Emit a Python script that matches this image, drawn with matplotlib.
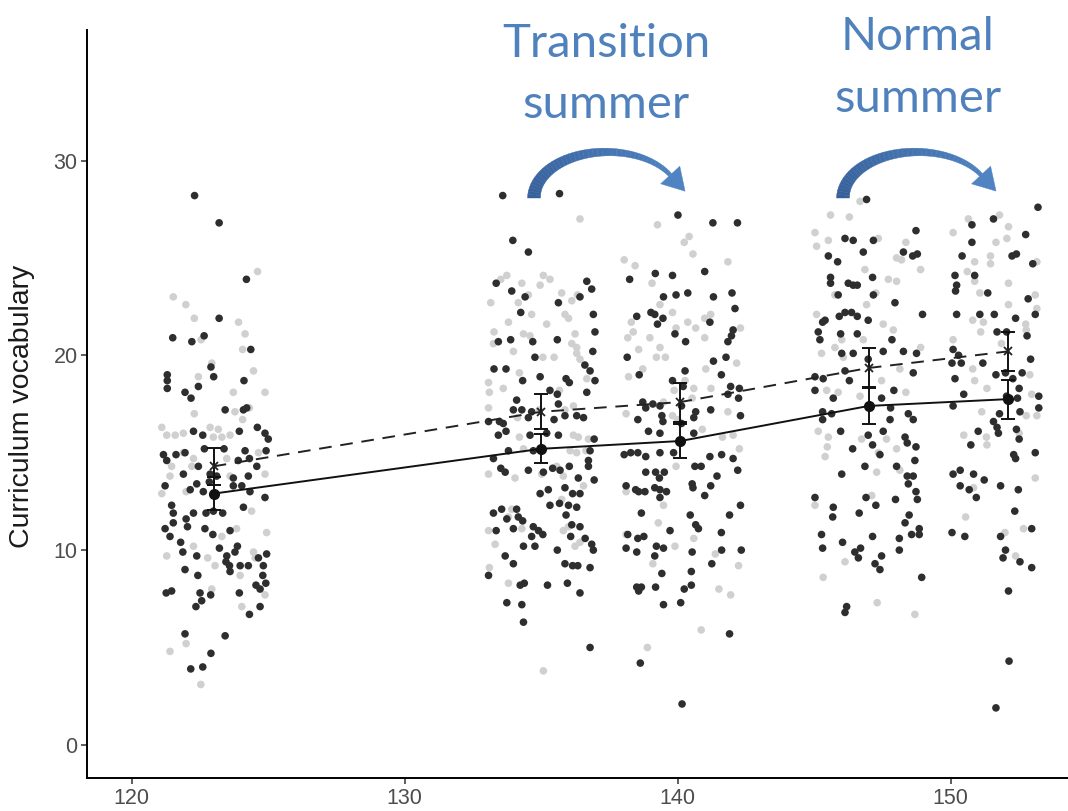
import matplotlib
matplotlib.use("Agg")
import matplotlib.pyplot as plt
from matplotlib.patches import Polygon
import numpy as np

# ---------------- data (age in months, curriculum vocabulary) ----------------
c1_dark = [(122.3,28.2),(123.2,26.8),(124.2,23.9),(123.2,21.9),(121.5,20.9),(122.2,20.7),(122.65,21.0),(124.36,20.3),
(122.9,19.4),(123.0,18.9),(121.3,19.0),(121.3,18.7),(121.3,18.3),(121.95,18.1),(122.44,18.4),(122.17,17.8),(124.11,18.7),
(123.42,17.2),(124.09,17.2),(124.21,17.3),(122.26,16.1),(122.6,15.9),(123.94,16.1),(124.6,16.3),(124.88,16.0),(125.0,15.7),
(121.16,14.9),(121.28,14.6),(121.62,14.9),(121.95,15.0),(122.66,15.2),(123.38,15.2),(124.15,15.1),(123.9,14.6),(124.31,14.7),
(124.92,15.1),(122.44,14.3),(121.89,13.9),(122.87,13.9),(123.11,13.8),(124.58,14.3),(121.22,13.3),(122.14,13.1),(122.38,13.4),
(122.62,13.0),(122.84,13.5),(123.72,13.7),(124.27,13.8),(123.72,13.3),(124.03,13.3),(124.33,13.0),(124.88,12.7),(121.46,12.3),
(121.52,11.9),(122.26,11.9),(122.72,11.9),(122.99,12.0),(123.33,11.9),(124.09,12.2),(121.22,11.1),(121.52,11.4),(121.99,11.6),
(122.04,11.2),(122.68,11.1),(122.97,10.8),(123.6,11.0),(121.4,10.7),(121.79,10.4),(121.87,9.9),(123.21,10.1),(123.87,10.2),
(123.78,9.9),(123.48,9.7),(122.38,9.7),(123.45,9.4),(123.58,9.2),(123.6,8.9),(123.97,9.2),(124.27,9.2),(124.64,9.6),(124.94,9.8),
(124.82,9.2),(124.8,8.7),(121.95,9.0),(122.42,8.7),(121.26,7.8),(121.46,7.9),(122.5,7.8),(122.89,7.7),(123.94,7.8),(124.55,8.2),
(124.7,8.0),(124.91,8.3),(122.56,7.4),(122.35,7.1),(124.7,7.1),(124.31,6.7),(121.95,5.7),(123.42,5.6),(122.9,4.7),(122.16,3.9),
(122.6,4.0)]
c1_light = [(124.61,24.3),(121.52,23.0),(121.98,22.6),(122.29,21.9),(123.91,21.7),(124.15,21.1),(122.54,20.8),(124.06,20.3),
(122.93,19.6),(122.44,18.9),(124.46,19.2),(123.72,18.1),(124.88,18.1),(122.29,17.0),(123.78,17.1),(124.31,17.3),(124.06,16.7),
(121.1,16.3),(121.28,15.9),(121.59,15.9),(121.89,16.0),(122.87,16.3),(123.17,16.2),(122.99,15.8),(123.3,15.8),(123.6,15.9),
(121.89,15.0),(122.26,14.7),(122.2,14.3),(121.46,14.3),(121.1,12.9),(121.4,13.8),(121.99,13.0),(123.48,14.7),(124.64,15.0),
(124.88,13.9),(123.6,13.8),(124.94,10.9),(124.39,12.0),(123.84,11.1),(123.3,10.7),(121.28,9.7),(122.26,10.2),(122.78,9.6),
(123.05,9.2),(123.97,8.7),(124.46,9.9),(124.52,9.6),(124.88,7.7),(122.93,8.0),(124.03,7.1),(121.99,5.2),(121.4,4.8),(122.53,3.1)]

c2_dark = [(133.59,28.2),(135.67,28.3),(133.96,25.9),(134.53,25.3),(133.35,23.7),(133.92,23.3),(134.41,23.0),(136.67,23.8),
(136.85,23.4),(134.25,22.2),(135.63,22.7),(136.42,23.0),(136.91,22.1),(136.97,21.2),(133.43,20.7),(133.88,20.8),(134.69,20.7),
(135.59,20.8),(136.89,20.2),(134.77,19.9),(133.27,19.3),(133.71,19.3),(134.32,18.7),(134.96,18.9),(135.91,18.8),(136.03,18.6),
(136.6,19.5),(136.79,19.2),(136.97,18.7),(136.67,18.1),(135.32,18.2),(135.59,18.0),(134.1,17.7),(133.98,17.2),(134.29,17.2),
(134.65,17.1),(135.63,17.5),(135.87,16.9),(136.3,16.9),(136.55,16.8),(133.07,16.6),(133.47,16.6),(133.61,16.5),(134.53,16.8),
(135.47,16.7),(133.43,15.9),(133.71,16.1),(134.59,15.9),(135.2,16.0),(135.63,15.9),(133.8,15.1),(134.71,15.1),(133.25,14.7),
(136.79,15.1),(136.94,15.7),(136.73,14.6),(136.73,14.3),(133.52,14.2),(133.68,14.0),(134.53,14.1),(135.08,14.0),(135.42,14.2),
(135.69,14.1),(136.03,14.3),(136.36,13.7),(136.94,13.6),(134.96,12.9),(135.26,13.1),(135.87,13.2),(136.15,12.9),(136.42,12.9),
(135.32,12.3),(135.67,12.4),(136.0,12.3),(136.3,12.2),(133.25,11.9),(133.55,12.1),(134.1,12.1),(133.74,11.6),(134.16,11.7),
(134.32,11.5),(135.91,11.8),(133.98,11.1),(134.71,11.2),(134.9,11.0),(135.06,10.8),(133.35,11.0),(134.65,10.7),(136.12,11.3),
(136.42,11.2),(136.08,10.7),(136.61,10.6),(136.85,10.3),(136.91,10.0),(134.35,10.2),(134.77,10.2),(135.59,10.0),(133.68,9.7),
(133.98,9.3),(135.87,9.3),(136.15,9.2),(136.34,9.2),(136.79,9.1),(133.07,8.7),(134.23,8.2),(134.38,8.3),(135.23,8.2),
(135.96,8.3),(136.42,7.8),(133.74,7.3),(134.29,7.2),(134.35,6.3),(136.79,5.0)]
c2_light = [(136.42,27.0),(133.74,24.1),(133.52,23.9),(135.08,24.1),(135.32,23.9),(134.96,23.6),(134.29,23.7),(133.15,22.7),
(134.53,23.1),(134.16,22.7),(135.75,23.2),(136.12,22.8),(136.33,23.1),(134.65,22.1),(135.87,22.1),(136.0,21.9),(133.8,21.7),
(135.2,21.6),(133.27,21.2),(134.35,21.1),(134.59,21.0),(133.25,20.6),(133.98,20.2),(136.24,21.1),(136.12,20.6),(136.3,20.4),
(136.3,20.1),(136.42,19.8),(135.06,19.9),(135.47,19.9),(134.2,19.1),(133.07,18.6),(133.61,18.3),(133.1,18.1),(133.07,17.3),
(136.67,18.8),(135.67,18.2),(136.18,17.4),(135.87,17.2),(134.93,17.2),(134.13,16.8),(134.2,15.8),(136.18,15.9),(136.36,15.8),
(136.73,15.7),(134.35,15.2),(136.06,15.1),(136.3,15.0),(136.64,15.1),(133.07,13.9),(134.04,13.7),(135.02,13.9),(135.57,14.3),
(135.81,13.8),(136.55,13.3),(135.75,12.6),(133.92,12.1),(133.8,11.7),(134.29,11.1),(133.07,11.0),(136.0,11.2),(135.81,11.0),
(133.31,10.3),(136.24,10.2),(136.42,10.4),(133.1,9.1),(133.8,8.3),(135.08,3.8)]

c3_dark = [(140.01,27.2),(141.29,26.8),(142.19,26.8),(139.18,24.2),(139.81,24.1),(138.24,23.9),(140.99,24.3),(139.48,23.0),
(139.94,23.1),(140.37,23.2),(141.31,23.0),(141.99,23.2),(142.1,22.4),(139.02,22.2),(139.16,22.1),(138.5,22.0),(139.46,21.9),
(139.26,21.6),(141.18,21.7),(139.9,21.1),(140.29,20.7),(142.03,21.3),(141.84,20.7),(141.97,21.0),(138.15,19.9),(141.31,19.7),
(141.77,19.9),(138.59,19.0),(141.6,19.0),(140.27,19.2),(139.81,18.7),(140.2,18.4),(141.94,18.4),(142.26,18.3),(138.72,17.6),
(139.09,17.5),(139.35,17.4),(138.83,17.3),(138.54,16.7),(139.42,16.9),(139.46,16.6),(140.14,17.4),(140.66,17.1),(141.21,17.2),
(141.84,18.0),(142.23,17.8),(142.3,16.9),(140.59,16.8),(138.93,16.1),(139.35,16.0),(140.14,16.5),(140.59,16.0),(138.04,14.9),
(138.28,15.0),(138.54,15.0),(138.83,14.8),(139.35,15.0),(139.85,15.0),(140.63,14.3),(140.86,14.3),(141.18,14.8),(141.61,14.9),
(142.03,14.7),(142.2,14.1),(138.83,14.0),(139.19,14.0),(139.33,13.7),(139.51,14.0),(141.44,13.8),(141.21,13.3),(138.11,13.3),
(138.46,13.1),(138.57,13.0),(138.8,13.0),(139.16,13.2),(139.35,13.1),(139.59,13.0),(139.35,12.7),(140.53,13.4),(140.56,13.2),
(140.99,12.8),(138.67,11.9),(140.46,11.8),(140.66,11.3),(140.76,11.1),(141.9,11.8),(142.3,12.3),(139.72,11.0),(141.6,10.9),
(138.17,10.8),(138.54,10.6),(138.76,10.7),(138.11,10.1),(138.5,9.9),(139.16,9.7),(139.22,10.2),(139.48,10.1),(140.53,9.9),
(141.61,10.0),(142.33,10.0),(141.25,9.3),(139.42,8.8),(140.5,8.9),(140.5,8.2),(138.5,8.1),(138.67,8.1),(138.57,7.9),
(139.19,8.1),(140.24,8.0),(139.48,7.2),(140.11,7.3),(141.9,5.7),(138.63,4.2),(140.16,2.1)]
c3_light = [(139.26,26.7),(140.42,26.1),(140.24,25.8),(140.56,25.2),(138.04,24.9),(138.44,24.6),(141.84,24.8),(139.06,23.7),
(139.35,22.6),(139.81,22.2),(140.99,21.9),(141.21,22.1),(138.3,21.7),(138.37,21.2),(138.17,20.9),(138.98,20.9),(139.35,20.4),
(138.57,20.3),(139.94,21.4),(140.37,21.7),(140.66,21.4),(140.99,20.9),(142.3,21.4),(142.16,19.6),(139.22,19.9),(139.55,19.9),
(138.72,19.3),(138.2,18.9),(141.03,19.3),(141.22,18.3),(139.48,17.6),(139.87,18.2),(140.27,18.7),(140.59,18.3),(140.53,17.8),
(138.11,17.0),(139.81,16.9),(140.0,16.7),(140.9,16.2),(141.84,17.1),(141.64,15.8),(142.03,15.9),(142.26,15.2),(139.94,14.3),
(138.11,13.0),(139.48,12.3),(139.29,11.4),(140.59,10.6),(138.11,10.8),(139.9,10.2),(141.38,9.8),(142.23,9.2),(139.09,9.3),
(141.51,8.0),(141.94,7.7),(140.86,5.9),(138.89,5.0)]

c4_dark = [(146.92,28.0),(148.73,26.4),(146.13,26.0),(146.43,25.9),(147.17,25.9),(146.8,25.3),(145.52,25.1),(145.86,24.8),
(148.27,25.3),(148.61,25.1),(148.78,25.2),(145.6,24.0),(145.6,23.7),(146.25,23.7),(146.43,23.6),(146.58,23.6),(147.14,24.0),
(145.88,23.1),(147.17,23.1),(147.96,22.7),(146.13,22.2),(146.37,22.2),(145.92,22.0),(145.4,21.8),(145.31,21.7),(146.58,22.0),
(146.98,21.8),(148.97,22.1),(145.15,21.2),(145.21,20.8),(145.97,21.1),(146.58,21.1),(147.85,20.8),(146.01,20.1),(146.43,20.1),
(146.98,19.8),(147.53,20.2),(148.27,20.2),(148.75,20.1),(146.13,19.2),(148.63,19.1),(145.03,18.9),(145.33,18.8),(146.29,18.7),
(145.03,18.2),(147.92,18.2),(145.7,17.8),(147.47,17.8),(145.31,17.1),(145.64,17.0),(147.8,17.3),(148.45,17.0),(148.63,16.7),
(145.31,16.7),(147.78,16.7),(147.53,16.1),(145.97,16.1),(146.98,15.9),(148.33,15.8),(148.41,15.5),(148.73,15.3),(146.41,15.2),
(147.14,15.4),(147.41,14.9),(148.69,14.6),(146.86,14.3),(148.02,14.3),(146.01,13.9),(148.41,13.8),(148.63,13.8),(148.45,13.4),
(148.73,13.0),(148.78,12.6),(145.03,12.7),(146.9,12.7),(147.26,12.3),(147.98,12.6),(145.7,12.2),(145.68,11.7),(146.65,11.9),
(148.48,11.8),(148.33,11.4),(148.57,10.8),(148.85,10.8),(148.85,11.1),(145.27,10.8),(145.31,10.1),(146.04,10.4),(147.14,10.7),
(148.12,10.6),(148.12,10.0),(146.49,9.9),(146.7,10.1),(146.62,9.6),(147.23,9.3),(147.41,9.0),(147.47,9.7),(148.94,8.6),
(146.19,7.1),(146.13,6.8)]
c4_light = [(146.68,27.9),(145.6,27.2),(146.29,27.1),(145.03,26.3),(145.09,25.6),(145.52,25.9),(147.35,26.0),(148.36,25.8),
(148.02,25.0),(148.2,24.9),(146.86,24.4),(148.9,24.4),(147.72,23.9),(148.02,23.8),(145.76,23.1),(147.26,23.2),(146.92,22.6),
(145.09,22.1),(147.53,21.6),(147.9,21.3),(146.01,20.8),(146.8,20.8),(145.27,20.1),(145.76,20.4),(146.07,19.9),(148.9,20.4),
(148.14,19.3),(147.47,18.7),(145.46,18.2),(145.88,18.1),(146.68,17.9),(148.36,18.1),(145.15,16.1),(145.52,15.8),(146.74,15.7),
(147.65,15.7),(145.48,15.3),(145.4,14.8),(147.35,15.0),(148.02,15.2),(148.14,14.1),(147.29,14.0),(147.11,12.8),(145.03,12.3),
(146.13,9.4),(145.33,8.6),(147.31,7.3),(148.69,6.7)]

c5_dark = [(153.2,27.6),(150.78,26.7),(151.57,27.0),(152.75,26.2),(150.78,25.8),(150.42,25.1),(152.25,25.1),(152.41,25.2),
(153.01,24.7),(150.16,24.1),(150.88,24.1),(150.22,23.6),(150.18,23.3),(151.36,23.2),(152.84,22.9),(150.22,22.1),(151.07,22.1),
(151.6,22.1),(152.38,21.9),(153.1,22.1),(151.7,21.2),(152.05,21.2),(152.8,21.0),(150.09,20.3),(150.29,20.0),(150.05,19.6),
(150.39,19.6),(151.18,19.6),(152.93,19.8),(151.66,19.0),(152.01,19.1),(152.28,18.8),(152.62,19.1),(150.16,18.8),(150.48,18.0),
(152.51,18.3),(153.23,17.9),(152.05,17.9),(152.45,17.8),(150.09,17.4),(151.79,17.0),(152.54,17.1),(153.23,17.3),(151.57,16.6),
(151.7,16.3),(151.75,16.0),(151.01,16.1),(152.41,16.2),(152.51,15.7),(150.74,15.4),(152.31,14.9),(152.38,14.7),(153.1,15.0),
(150.09,13.9),(150.35,14.1),(150.84,13.9),(151.23,13.6),(150.35,13.3),(150.68,13.1),(150.94,12.7),(151.83,13.3),(152.48,13.1),
(152.35,12.0),(150.05,10.9),(150.52,10.7),(151.83,10.7),(152.97,11.1),(152.01,10.0),(151.92,9.6),(152.54,9.4),(152.97,9.1),
(152.12,7.9),(152.14,4.3),(151.66,1.9)]
c5_light = [(150.65,27.0),(151.79,27.2),(152.12,26.6),(150.09,26.3),(151.66,25.8),(152.06,26.0),(151.46,25.1),(151.46,24.7),
(150.88,24.8),(153.16,24.8),(150.61,24.3),(150.88,23.8),(151.07,23.2),(152.12,23.7),(153.1,23.1),(153.16,22.4),(152.12,22.6),
(150.81,21.8),(151.2,21.7),(151.1,21.2),(152.75,21.6),(152.77,21.3),(150.09,20.8),(151.86,20.6),(150.81,19.3),(150.88,18.7),
(152.9,19.0),(151.33,18.3),(152.97,18.0),(153.16,16.9),(152.77,16.9),(151.14,17.1),(150.48,15.9),(151.31,15.8),(151.33,15.4),
(152.51,16.0),(153.1,13.7),(150.84,13.2),(150.55,11.7),(152.67,11.1),(151.99,10.9),(152.38,9.7)]

# group means and standard errors
mean_age = [123.0, 135.0, 140.1, 147.0, 152.1]
dark_mean = [12.9, 15.2, 15.6, 17.4, 17.75]
dark_se = [0.85, 0.75, 0.85, 0.92, 1.0]
light_mean = [14.3, 17.1, 17.6, 19.35, 20.2]
light_se = [0.95, 0.9, 1.0, 1.0, 1.0]

x_ticks = [120, 130, 140, 150]
y_ticks = [0, 10, 20, 30]
y_label = "Curriculum vocabulary"
annotations = [("Transition", "summer"), ("Normal", "summer")]

DARK = "#2e2e2e"
LIGHT = "#d0d0d0"
BLUE = "#4F81BD"

W, H = 1068, 811
fig = plt.figure(figsize=(W / 100, H / 100), dpi=100)
ax = fig.add_axes([87.3 / W, (H - 778) / H, (W - 87.3) / W, (778 - 30) / H])

light_all = c1_light + c2_light + c3_light + c4_light + c5_light
dark_all = c1_dark + c2_dark + c3_dark + c4_dark + c5_dark
lx, ly = zip(*light_all)
dx, dy = zip(*dark_all)
ax.scatter(lx, ly, s=30, color=LIGHT, edgecolors="none", zorder=2)
ax.scatter(dx, dy, s=30, color=DARK, edgecolors="none", zorder=3)

ax.plot(mean_age, light_mean, color="#222222", lw=1.4, ls=(0, (6.5, 4.5)), zorder=4)
ax.errorbar(mean_age, light_mean, yerr=light_se, fmt="none", ecolor="#111111",
            elinewidth=1.4, capsize=5, capthick=1.4, zorder=5)
ax.plot(mean_age, light_mean, ls="none", marker="x", ms=6, mew=1.3, color="#222222", zorder=6)

ax.plot(mean_age, dark_mean, color="#111111", lw=1.4, zorder=4)
ax.errorbar(mean_age, dark_mean, yerr=dark_se, fmt="none", ecolor="#111111",
            elinewidth=1.4, capsize=5, capthick=1.4, zorder=5)
ax.plot(mean_age, dark_mean, ls="none", marker="o", ms=7, color="#111111", zorder=6)

ax.set_xlim(118.37, 154.3)
ax.set_ylim(-1.7, 36.7)
ax.set_xticks(x_ticks)
ax.set_yticks(y_ticks)
for s in ["top", "right"]:
    ax.spines[s].set_visible(False)
for s in ["left", "bottom"]:
    ax.spines[s].set_linewidth(1.4)
    ax.spines[s].set_color("black")
ax.tick_params(axis="both", length=4, width=1.1, color="#333333",
               labelcolor="#4D4D4D", labelsize=15.5, pad=3)
for lab in ax.get_xticklabels() + ax.get_yticklabels():
    lab.set_family(["Liberation Sans", "DejaVu Sans"])

fig.text(22 / W, 1 - 406 / H, y_label, rotation=90, ha="center", va="center",
         fontsize=20.5, color="#1a1a1a", family=["Liberation Sans", "DejaVu Sans"])

# annotation texts
ann_pos = [(606, 57, 118), (918, 50, 112)]
for (l1, l2), (cx, b1, b2) in zip(annotations, ann_pos):
    fig.text(cx / W, 1 - b1 / H, l1, ha="center", va="baseline", fontsize=34,
             color=BLUE, family=["Lato", "DejaVu Sans"])
    fig.text(cx / W, 1 - b2 / H, l2, ha="center", va="baseline", fontsize=34,
             color=BLUE, family=["Lato", "DejaVu Sans"])


def fig_pt(px, py):
    return (px / W, 1 - py / H)


def curved_arrow(cx, cy, a, b, t_end, w0, w1, head_w, head_len, c0, c1, n=40):
    thetas = np.linspace(np.pi, np.radians(t_end), n + 1)
    widths = np.linspace(w0, w1, n + 1)
    col0 = np.array(matplotlib.colors.to_rgb(c0))
    col1 = np.array(matplotlib.colors.to_rgb(c1))
    pts = []
    for th, w in zip(thetas, widths):
        x = cx + a * np.cos(th)
        y = cy - b * np.sin(th)
        tx, ty = a * np.sin(th), b * np.cos(th)
        L = np.hypot(tx, ty)
        tx, ty = tx / L, ty / L
        nx, ny = -ty, tx
        pts.append(((x + nx * w / 2, y + ny * w / 2), (x - nx * w / 2, y - ny * w / 2), (x, y), (tx, ty), (nx, ny)))
    for i in range(n):
        f = i / n
        col = col0 * (1 - f) + col1 * f
        p = [pts[i][0], pts[i + 1][0], pts[i + 1][1], pts[i][1]]
        fig.patches.append(Polygon([fig_pt(*q) for q in p], closed=True, transform=fig.transFigure,
                                   facecolor=col, edgecolor=col, lw=0.3))
    (x, y), (tx, ty), (nx, ny) = pts[-1][2], pts[-1][3], pts[-1][4]
    head = [(x + nx * head_w / 2, y + ny * head_w / 2), (x + tx * head_len, y + ty * head_len),
            (x - nx * head_w / 2, y - ny * head_w / 2)]
    fig.patches.append(Polygon([fig_pt(*q) for q in head], closed=True, transform=fig.transFigure,
                               facecolor=col1, edgecolor=col1, lw=0.3))


curved_arrow(607, 198, 73, 46, 30, 13, 4, 26, 22, "#36609A", "#4F83C2")
curved_arrow(917, 198, 74, 46, 30, 13, 4, 26, 22, "#36609A", "#4F83C2")

fig.savefig("out.png", dpi=100)
